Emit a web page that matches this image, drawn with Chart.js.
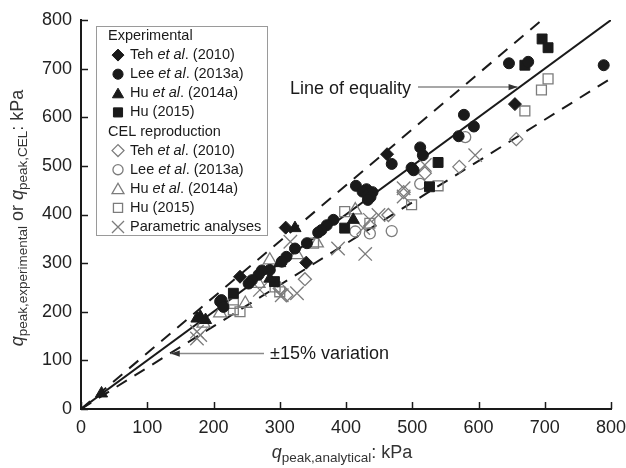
<!DOCTYPE html>
<html>
<head>
<meta charset="utf-8">
<script src="https://cdn.jsdelivr.net/npm/chart.js@4.4.0/dist/chart.umd.min.js"></script>
<style>
  html, body { margin: 0; padding: 0; background: #fff; }
  #wrap { width: 626px; height: 468px; }
</style>
</head>
<body>
<div id="wrap"><canvas id="c" width="626" height="468"></canvas></div>
<script>
// ---- axis settings ----
const AXIS_MIN = 0;
const AXIS_MAX = 800;
const AXIS_STEP = 100;
const BAND = 0.15; // +/-15% variation band

// ---- measured peak pressures [q_analytical, q_measured] (kPa) ----
// Experimental
const tehExp = [[655, 627], [462, 524], [340, 301], [309, 373], [240, 272]];
const leeExp = [[789, 707], [646, 711], [675, 714], [578, 605], [593, 581], [570, 561],
  [512, 538], [516, 522], [469, 504], [499, 496], [502, 491], [415, 459], [431, 452],
  [425, 447], [433, 440], [440, 446], [437, 436], [433, 430], [381, 389], [371, 378],
  [363, 368], [358, 363], [341, 341], [323, 330], [310, 313], [303, 303], [285, 286],
  [273, 285], [268, 276], [258, 265], [253, 258], [212, 224], [210, 221], [215, 210]];
const huExp2014 = [[411, 389], [323, 372], [300, 300], [285, 268], [180, 190], [175, 186],
  [188, 183], [31, 32]];
const huExp2015 = [[696, 761], [705, 743], [670, 707], [539, 507], [526, 457], [398, 372],
  [230, 238], [292, 262]];
// CEL reproduction
const tehCel = [[657, 555], [571, 498], [519, 485], [487, 446], [464, 399], [338, 267],
  [310, 234], [300, 248]];
const leeCel = [[580, 559], [512, 463], [436, 361], [469, 366], [414, 365]];
const huCel2014 = [[414, 409], [356, 341], [326, 317], [285, 306], [268, 258], [248, 217],
  [210, 197], [185, 176]];
const huCel2015 = [[705, 679], [695, 656], [670, 613], [539, 459], [499, 420], [436, 382],
  [398, 406], [351, 341], [293, 251], [300, 241], [230, 217], [240, 200], [230, 204]];
const parametric = [[595, 522], [519, 502], [487, 454], [487, 437], [449, 399], [436, 389],
  [426, 372], [429, 319], [388, 330], [316, 344], [270, 245], [326, 238], [303, 234],
  [175, 159], [175, 145], [180, 152]];

// ---- legend text ----
const HEADER_EXP = 'Experimental';
const HEADER_CEL = 'CEL reproduction';
const LABEL_TEH = [['Teh ', false], ['et al', true], ['. (2010)', false]];
const LABEL_LEE = [['Lee ', false], ['et al', true], ['. (2013a)', false]];
const LABEL_HU14 = [['Hu ', false], ['et al', true], ['. (2014a)', false]];
const LABEL_HU15 = [['Hu (2015)', false]];
const LABEL_PARAM = [['Parametric analyses', false]];

const FONT = '"Liberation Sans", Arial, Helvetica, sans-serif';
const INK = '#1a1a1a';
const GREY = '#7c7c7c';

function pts(a) { return a.map(([x, y]) => ({ x, y })); }

const markerSets = [
  { data: tehExp, style: 'rectRot', r: 6.5, filled: true, label: LABEL_TEH },
  { data: leeExp, style: 'circle', r: 5.5, filled: true, label: LABEL_LEE },
  { data: huExp2014, style: 'triangle', r: 7, filled: true, label: LABEL_HU14 },
  { data: huExp2015, style: 'rect', r: 7, filled: true, label: LABEL_HU15 },
  { data: tehCel, style: 'rectRot', r: 6.5, filled: false, label: LABEL_TEH },
  { data: leeCel, style: 'circle', r: 5.5, filled: false, label: LABEL_LEE },
  { data: huCel2014, style: 'triangle', r: 7.5, filled: false, label: LABEL_HU14 },
  { data: huCel2015, style: 'rect', r: 7, filled: false, label: LABEL_HU15 },
  { data: parametric, style: 'crossRot', r: 9.5, filled: false, label: LABEL_PARAM }
];

const datasets = markerSets.map(s => ({
  data: pts(s.data),
  pointStyle: s.style,
  pointRadius: s.r,
  pointHoverRadius: s.r,
  backgroundColor: s.filled ? INK : 'rgba(0,0,0,0)',
  borderColor: s.filled ? INK : GREY,
  borderWidth: s.filled ? 1 : 1.3,
  order: s.filled ? 1 : 3,
  clip: false
}));

// reference lines: equality and +/-15%
const upperEnd = AXIS_MAX / (1 + BAND);
datasets.push(
  { data: [{ x: AXIS_MIN, y: AXIS_MIN }, { x: AXIS_MAX, y: AXIS_MAX }], showLine: true,
    borderColor: INK, borderWidth: 2, pointRadius: 0, order: 10 },
  { data: [{ x: AXIS_MIN, y: AXIS_MIN }, { x: upperEnd, y: AXIS_MAX }], showLine: true,
    borderColor: INK, borderWidth: 2, borderDash: [12, 9], pointRadius: 0, order: 10 },
  { data: [{ x: AXIS_MIN, y: AXIS_MIN }, { x: AXIS_MAX, y: AXIS_MAX * (1 - BAND) }], showLine: true,
    borderColor: INK, borderWidth: 2, borderDash: [12, 9], pointRadius: 0, order: 10 }
);

// marker drawing used by the legend (same geometry as Chart.js point styles)
function drawMarker(ctx, s, x, y) {
  const r = s.r;
  ctx.beginPath();
  if (s.style === 'circle') {
    ctx.arc(x, y, r, 0, Math.PI * 2);
  } else if (s.style === 'rectRot') {
    ctx.moveTo(x - r, y); ctx.lineTo(x, y - r); ctx.lineTo(x + r, y); ctx.lineTo(x, y + r);
    ctx.closePath();
  } else if (s.style === 'rect') {
    const h = Math.SQRT1_2 * r;
    ctx.rect(x - h, y - h, 2 * h, 2 * h);
  } else if (s.style === 'triangle') {
    const yc = y + r * 0.2;
    ctx.moveTo(x, yc - r);
    ctx.lineTo(x + r * 0.866, yc + r * 0.5);
    ctx.lineTo(x - r * 0.866, yc + r * 0.5);
    ctx.closePath();
  } else if (s.style === 'crossRot') {
    const h = Math.SQRT1_2 * r;
    ctx.moveTo(x - h, y - h); ctx.lineTo(x + h, y + h);
    ctx.moveTo(x + h, y - h); ctx.lineTo(x - h, y + h);
  }
  if (s.filled) {
    ctx.fillStyle = INK; ctx.fill();
    ctx.strokeStyle = INK; ctx.lineWidth = 1; ctx.stroke();
  } else {
    ctx.strokeStyle = GREY; ctx.lineWidth = 1.3; ctx.stroke();
  }
}

function drawRich(ctx, parts, x, y, size) {
  let cx = x;
  parts.forEach(([t, it]) => {
    ctx.font = (it ? 'italic ' : '') + size + 'px ' + FONT;
    ctx.fillText(t, cx, y);
    cx += ctx.measureText(t).width;
  });
}

const legendPlugin = {
  id: 'seriesLegend',
  beforeDatasetsDraw(chart) {
    const ctx = chart.ctx;
    ctx.save();
    ctx.fillStyle = '#fff';
    ctx.fillRect(96.5, 26.5, 171, 209);
    ctx.strokeStyle = '#9a9a9a';
    ctx.lineWidth = 1;
    ctx.strokeRect(96.5, 26.5, 171, 209);
    const rowY = i => 36 + i * 19.1;
    const size = 14.5;
    ctx.textBaseline = 'middle';
    ctx.fillStyle = INK;
    ctx.font = size + 'px ' + FONT;
    ctx.fillText(HEADER_EXP, 108, rowY(0));
    ctx.fillText(HEADER_CEL, 108, rowY(5));
    const rows = [1, 2, 3, 4, 6, 7, 8, 9, 10];
    markerSets.forEach((s, i) => {
      const y = rowY(rows[i]);
      const ms = Object.assign({}, s, { r: s.style === 'crossRot' ? 8.5 : s.r * 0.92 });
      drawMarker(ctx, ms, 118, y);
      ctx.fillStyle = INK;
      drawRich(ctx, s.label, 130, y, size);
    });
    ctx.restore();
  }
};

function arrow(ctx, x1, y1, x2, y2) {
  ctx.beginPath();
  ctx.moveTo(x1, y1); ctx.lineTo(x2, y2);
  ctx.strokeStyle = '#8a8a8a'; ctx.lineWidth = 1.5; ctx.stroke();
  const a = Math.atan2(y2 - y1, x2 - x1);
  const L = 9, W = 3.2;
  ctx.beginPath();
  ctx.moveTo(x2, y2);
  ctx.lineTo(x2 - L * Math.cos(a) + W * Math.sin(a), y2 - L * Math.sin(a) - W * Math.cos(a));
  ctx.lineTo(x2 - L * Math.cos(a) - W * Math.sin(a), y2 - L * Math.sin(a) + W * Math.cos(a));
  ctx.closePath();
  ctx.fillStyle = '#333'; ctx.fill();
}

const annotationPlugin = {
  id: 'annotations',
  afterDraw(chart) {
    const ctx = chart.ctx;
    const xs = chart.scales.x, ys = chart.scales.y;
    const area = chart.chartArea;
    ctx.save();

    // inward tick marks
    ctx.strokeStyle = INK; ctx.lineWidth = 1.5;
    for (let v = AXIS_MIN; v <= AXIS_MAX; v += AXIS_STEP) {
      const px = Math.round(xs.getPixelForValue(v)) + 0.5;
      ctx.beginPath(); ctx.moveTo(px, area.bottom); ctx.lineTo(px, area.bottom - 7); ctx.stroke();
      const py = Math.round(ys.getPixelForValue(v)) + 0.5;
      ctx.beginPath(); ctx.moveTo(area.left, py); ctx.lineTo(area.left + 7, py); ctx.stroke();
    }

    // line of equality label
    const eq = 662;
    const ex = xs.getPixelForValue(eq), ey = ys.getPixelForValue(eq);
    ctx.fillStyle = INK;
    ctx.textBaseline = 'alphabetic';
    ctx.font = '18px ' + FONT;
    ctx.fillText('Line of equality', 290, ey + 6.5);
    arrow(ctx, 418, ey, ex - 2, ey);

    // +/-15% label pointing at the lower band line
    const bx = 134;
    const px2 = xs.getPixelForValue(bx), py2 = ys.getPixelForValue(bx * (1 - BAND));
    ctx.fillStyle = INK;
    ctx.fillText('\u00B115% variation', 270, py2 + 5);
    arrow(ctx, 264, py2, px2 + 1, py2);

    // x-axis title
    const big = '18px ' + FONT, sub = '13.5px ' + FONT, itq = 'italic 18px ' + FONT;
    const xParts = [['q', itq, 0], ['peak,analytical', sub, 4], [': kPa', big, 0]];
    let w = 0;
    xParts.forEach(p => { ctx.font = p[1]; w += ctx.measureText(p[0]).width; });
    let cx = 342 - w / 2;
    xParts.forEach(p => { ctx.font = p[1]; ctx.fillText(p[0], cx, 458 + p[2]); cx += ctx.measureText(p[0]).width; });

    // y-axis title (rotated)
    const yParts = [['q', itq, 0], ['peak,experimental', sub, 4], [' or ', big, 0],
      ['q', itq, 0], ['peak,CEL', sub, 4], [': kPa', big, 0]];
    w = 0;
    yParts.forEach(p => { ctx.font = p[1]; w += ctx.measureText(p[0]).width; });
    ctx.translate(23, 218);
    ctx.rotate(-Math.PI / 2);
    cx = -w / 2;
    yParts.forEach(p => { ctx.font = p[1]; ctx.fillText(p[0], cx, p[2]); cx += ctx.measureText(p[0]).width; });
    ctx.restore();
  }
};

const tickFont = { family: FONT, size: 18 };

new Chart(document.getElementById('c'), {
  type: 'scatter',
  data: { datasets },
  options: {
    responsive: false,
    animation: false,
    events: [],
    layout: { padding: { top: 20, right: 15, left: 0, bottom: 0 } },
    plugins: { legend: { display: false }, tooltip: { enabled: false } },
    scales: {
      x: {
        type: 'linear', min: AXIS_MIN, max: AXIS_MAX,
        grid: { display: false, drawTicks: false },
        border: { display: true, color: INK, width: 2 },
        ticks: { stepSize: AXIS_STEP, font: tickFont, color: '#222', padding: 8, maxRotation: 0 },
        afterFit: s => { s.height = 59; s.paddingLeft = 0; s.paddingRight = 0; }
      },
      y: {
        type: 'linear', min: AXIS_MIN, max: AXIS_MAX,
        grid: { display: false, drawTicks: false },
        border: { display: true, color: INK, width: 2 },
        ticks: { stepSize: AXIS_STEP, font: tickFont, color: '#222', padding: 9 },
        afterFit: s => { s.width = 81; s.paddingTop = 0; s.paddingBottom = 0; }
      }
    }
  },
  plugins: [legendPlugin, annotationPlugin]
});
</script>
</body>
</html>
